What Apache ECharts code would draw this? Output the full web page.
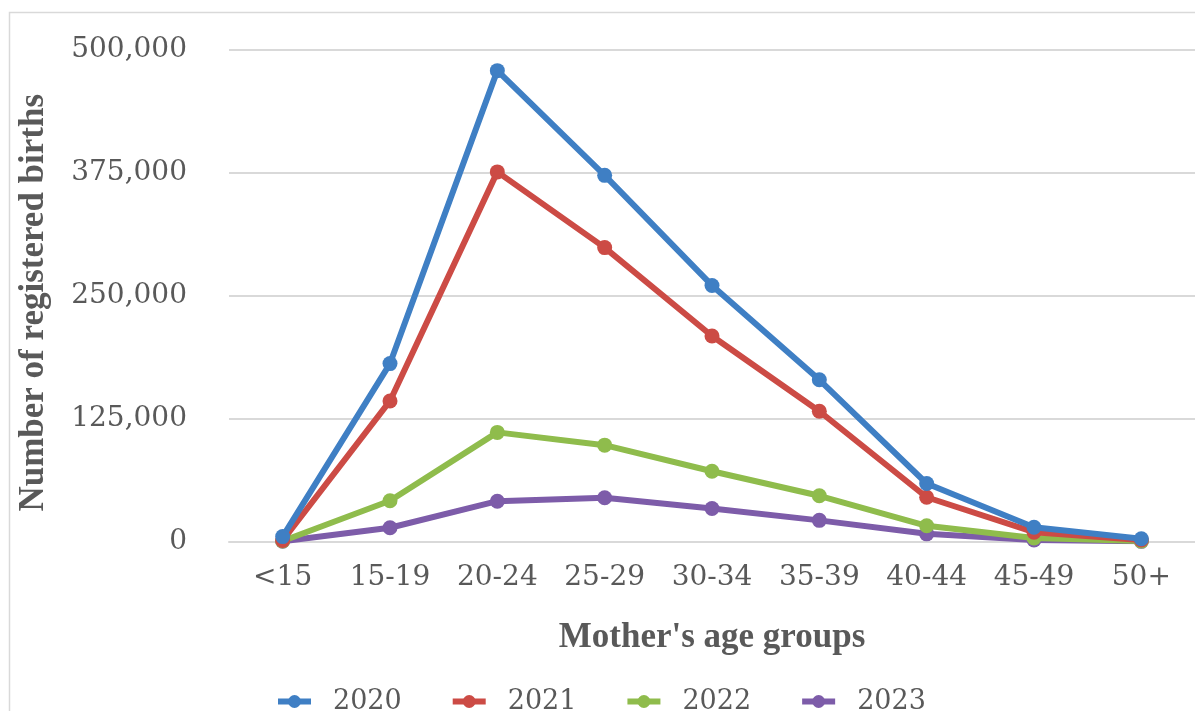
<!DOCTYPE html>
<html>
<head>
<meta charset="utf-8">
<title>Registered births by mother's age group</title>
<script src="https://cdn.jsdelivr.net/npm/echarts@6/dist/echarts.min.js"></script>
<style>
  html, body { margin: 0; padding: 0; background: #ffffff; }
  #chart { width: 1195px; height: 711px; }
</style>
</head>
<body>
<div id="chart"></div>
<script>
// Mother's age groups along the horizontal axis
const ageGroups = ['<15', '15-19', '20-24', '25-29', '30-34', '35-39', '40-44', '45-49', '50+'];

// Registered births per age group, one array per year
const births2020 = [5000, 181000, 479000, 372500, 260500, 164500, 59000, 14500, 2800];
const births2021 = [1000, 143000, 376000, 299000, 209000, 132500, 45000, 9500, 1500];
const births2022 = [500, 41500, 111000, 98000, 71500, 46500, 16000, 3500, 400];
const births2023 = [300, 14000, 41000, 44500, 33500, 21500, 7800, 1500, 150];

const years = ['2020', '2021', '2022', '2023'];
const yearColors = ['#3f7fc4', '#cc4b45', '#8fbc4c', '#7d5ca9'];

// Value axis ticks
const yMin = 0, yMax = 500000, yStep = 125000;

const seriesData = [births2020, births2021, births2022, births2023];
const textGrey = '#595959';

const chart = echarts.init(document.getElementById('chart'), null, { renderer: 'canvas' });

chart.setOption({
  backgroundColor: '#ffffff',
  animation: false,
  graphic: [{
    // thin frame around the chart area
    type: 'rect',
    shape: { x: 9.5, y: 12.5, width: 1200, height: 720 },
    style: { fill: 'none', stroke: '#d9d9d9', lineWidth: 1.5 },
    silent: true
  }],
  grid: { left: 229, top: 50, width: 977, height: 491.5 },
  legend: {
    data: years,
    left: 270,
    top: 683,
    itemWidth: 33,
    itemHeight: 16,
    itemGap: 48,
    lineStyle: { width: 6 },
    textStyle: {
      fontFamily: 'DejaVu Serif',
      fontSize: 27,
      color: textGrey,
      padding: [0, 0, 0, 17]
    }
  },
  xAxis: {
    type: 'category',
    data: ageGroups,
    boundaryGap: true,
    name: "Mother's age groups",
    nameLocation: 'middle',
    nameGap: 79,
    nameTextStyle: {
      fontFamily: 'Liberation Serif',
      fontWeight: 'bold',
      fontSize: 35,
      color: textGrey
    },
    axisLine: { show: true, lineStyle: { color: '#d9d9d9', width: 2 } },
    axisTick: { show: false },
    axisLabel: {
      margin: 22,
      fontFamily: 'DejaVu Serif',
      fontSize: 28,
      color: textGrey
    }
  },
  yAxis: {
    type: 'value',
    min: yMin,
    max: yMax,
    interval: yStep,
    name: 'Number of registered births',
    nameLocation: 'middle',
    nameGap: 178,
    nameRotate: 90,
    nameTextStyle: {
      fontFamily: 'Liberation Serif',
      fontWeight: 'bold',
      fontSize: 35,
      color: textGrey,
      padding: [0, 14, 0, 0]
    },
    axisLine: { show: false },
    axisTick: { show: false },
    splitLine: { lineStyle: { color: '#d9d9d9', width: 2 } },
    axisLabel: {
      margin: 42,
      fontFamily: 'DejaVu Serif',
      fontSize: 28,
      color: textGrey,
      padding: [4, 0, 0, 0],
      formatter: v => v.toLocaleString('en-US')
    }
  },
  series: years.map((y, i) => ({
    name: y,
    type: 'line',
    data: seriesData[i],
    symbol: 'circle',
    symbolSize: 15,
    z: 10 - i,
    lineStyle: { width: 6, color: yearColors[i] },
    itemStyle: { color: yearColors[i] }
  }))
});
</script>
</body>
</html>
